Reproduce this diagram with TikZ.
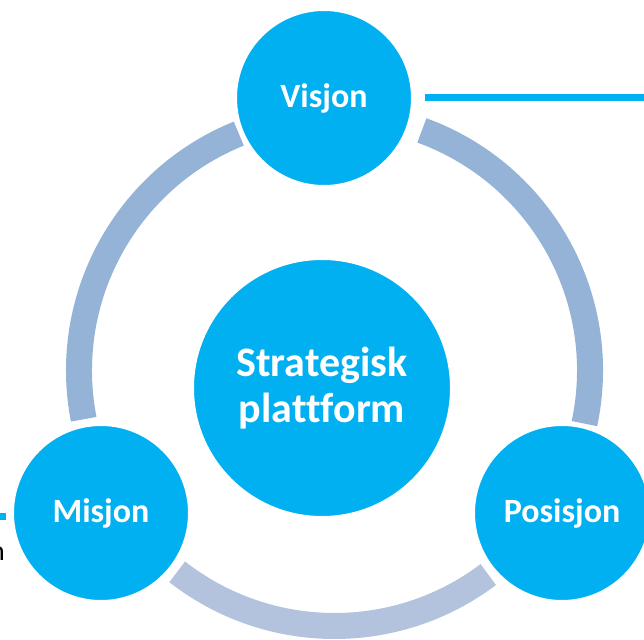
\documentclass[tikz,border=0pt]{standalone}
\usepackage{fontspec}
\setmainfont{Carlito}[Ligatures=NoCommon]
\definecolor{circblue}{HTML}{00B0F0}
\definecolor{ringblue}{HTML}{95B3D7}
\definecolor{ringpale}{HTML}{B3C2DD}
\tikzset{
  topic/.style={circle, fill=circblue, draw=white, line width=4pt, minimum size=178pt,
    inner sep=0pt, text=white, align=center, font=\fontsize{34}{40}\selectfont\bfseries},
  core/.style={topic, minimum size=260pt, font=\fontsize{42}{46}\selectfont\bfseries},
  ringarc/.style={line width=26pt, color=ringblue},
  link/.style={line width=7pt, color=circblue},
}
\begin{document}
\begin{tikzpicture}[x=1pt,y=1pt,yscale=-1,xscale=1]
\useasboundingbox (0,0) rectangle (644,639);
\clip (0,0) rectangle (644,639);

%Ring round the platform
\coordinate (ringc) at (334.5,370.5);
\draw [ringarc] (ringc) ++(-112:255.5) arc [start angle=-112, end angle=-191, radius=255.5];
\draw [ringarc] (ringc) ++(-70:255.5) arc [start angle=-70, end angle=12, radius=255.5];
\draw [ringarc, color=ringpale] (ringc) ++(-232:255.5) arc [start angle=-232, end angle=-307, radius=255.5];

% Circles
\node [core] (plattform) at (322,388) {Strategisk\\plattform};
\node [topic] (visjon) at (324,98) {Visjon};
\node [topic] (misjon) at (101,513) {Misjon};
\node [topic] (posisjon) at (562,513) {Posisjon};

% Lines out of the picture
\coordinate (visend) at (644,98);
\coordinate (misend) at (0,516);
\draw [link] ([xshift=10pt]visjon.east) -- (visend);
\draw [link] ([xshift=-4pt,yshift=3pt]misjon.west) -- (misend);

% Text Node
\node [anchor=base east, inner sep=0pt, font=\fontsize{28}{32}\selectfont] (cut) at (5,560) {n};

\end{tikzpicture}
\end{document}
